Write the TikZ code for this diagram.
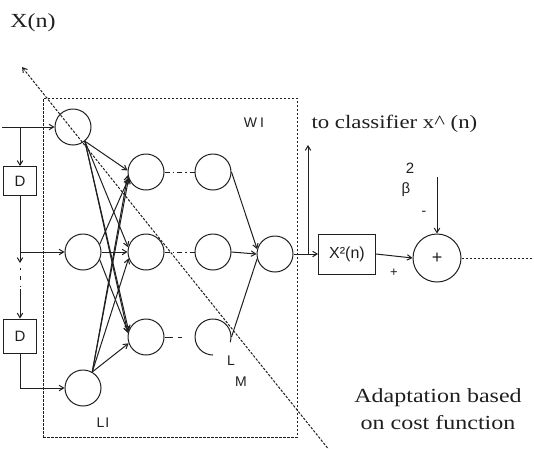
\documentclass[tikz,border=0pt]{standalone}
\usepackage{fontspec}
\setmainfont{Liberation Serif}
\setsansfont{Liberation Sans}
\newfontfamily\wideserif[FakeStretch=1.2]{Liberation Serif}
\usetikzlibrary{arrows.meta}
\tikzset{
  neuron/.style={circle, draw, minimum size=36pt, inner sep=0pt},
  arr/.style={-{Straight Barb[length=4.5pt,width=5.5pt]}},
  dotline/.style={dash pattern=on 5pt off 3pt on 1.5pt off 3pt},
  fine dashed/.style={dash pattern=on 2.5pt off 1.5pt},
  lab/.style={font=\sffamily\fontsize{14}{16}\selectfont, inner sep=0pt},
  sertext/.style={font=\wideserif\fontsize{19}{26}\selectfont, inner sep=0pt},
  dbox/.style={draw, minimum width=33pt, inner sep=0pt, font=\sffamily\fontsize{15}{17}\selectfont}
}
\begin{document}
\begin{tikzpicture}[x=1pt, y=-1pt, line width=1pt, color=black!88]
\useasboundingbox (0,0) rectangle (534,448);
% dashed network box
\node[draw, fine dashed, minimum width=254pt, minimum height=339pt, inner sep=0pt] (netbox) at (170,267.5) {};
% neurons
\node[neuron] (i1) at (73,127) {};
\node[neuron] (i2) at (83,252) {};
\node[neuron] (i3) at (83,388) {};
\node[neuron] (h1) at (146,172) {};
\node[neuron] (h2) at (146,252) {};
\node[neuron] (h3) at (146,337) {};
\node[neuron] (c1) at (213,172) {};
\node[neuron] (c2) at (213,252) {};
\node[circle, minimum size=36pt, inner sep=0pt] (c3) at (213,337) {};
\draw (c3.center) ++(17:18) arc[start angle=17, end angle=-270, radius=18];
\node[neuron] (o) at (275,254) {};
% delay line
\node[dbox, minimum height=29pt] (d1) at (20,181) {D};
\node[dbox, minimum height=34pt] (d2) at (20,336) {D};
\coordinate (xin) at (2,127);
\coordinate (b0) at (20,127);
\coordinate (b1) at (20,252);
\coordinate (b1a) at (20,263);
\coordinate (b1b) at (20,268);
\coordinate (b1c) at (20,289);
\draw[arr] (xin) -- (i1.west);
\draw[arr] (b0) -- (d1.north);
\draw (d1.south) -- (b1);
\draw[arr] (b1) -- (i2.west);
\draw[arr] (b1) -- (b1a);
\draw[dash pattern=on 1.5pt off 6pt on 4pt off 6pt] (b1b) -- (b1c);
\draw[arr] (b1c) -- (d2.north);
\draw[arr] (d2.south) |- (i3.west);
% input to hidden
\draw[arr] (i1.-50) -- (h1.175);
\draw[arr] (i1.-50) -- (h2.165);
\draw[arr] (i1.-50) -- (h3.160);
\draw[arr] (i1.-50) -- (h3.168);
\draw[arr] (i2.25) -- (h1.200);
\draw[arr] (i2.east) -- (h2.west);
\draw[arr] (i2.-25) -- (h3.165);
\draw[arr] (i3.60) -- (h1.190);
\draw[arr] (i3.60) -- (h1.200);
\draw[arr] (i3.60) -- (h2.200);
\draw[arr] (i3.60) -- (h3.200);
% hidden to next column
\draw[dotline] (h1.east) -- (c1.west);
\draw[dotline] (h2.east) -- (c2.west);
\draw[dash pattern=on 8pt off 5pt on 4pt off 20pt] (h3.east) -- (c3.west);
% to output
\draw[arr] (c1.east) -- (o.165);
\draw[arr] (c2.east) -- (o.west);
\draw (c3.east) -- (o.195);
% labels in network
\node[lab, font=\sffamily\fontsize{14}{16}\selectfont] (wlab) at (254,123) {W\hspace{3pt}I};
\node[lab] (l1lab) at (103,423) {L\hspace{1pt}I};
\node[lab] (llab) at (231,361) {L};
\node[lab] (mlab) at (241,382) {M};
% output branch
\node[draw, minimum width=57pt, minimum height=40pt, inner sep=0pt, font=\sffamily\fontsize{16}{18}\selectfont] (xsq) at (347,254) {X²(n)};
\coordinate (br) at (308,254);
\coordinate (up) at (308,145);
\draw[arr] (o.east) -- (xsq.west);
\draw[arr] (br) -- (up);
\node[sertext, anchor=west] (cls) at (311,124) {to classifier x\textasciicircum\ (n)};
% summation
\node[circle, draw, minimum size=48pt, inner sep=0pt, font=\sffamily\fontsize{18}{20}\selectfont] (sum) at (437,258) {+};
\draw[arr] (xsq.east) -- (sum.west);
\coordinate (bt) at (437,177);
\draw[arr] (bt) -- (sum.north);
\coordinate (rend) at (534,258);
\draw[fine dashed] (sum.east) -- (rend);
\node[lab, font=\sffamily\fontsize{13}{15}\selectfont] (plab) at (394,273) {+};
\node[lab] (mlab2) at (424,213) {-};
\node[lab, font=\sffamily\fontsize{15}{17}\selectfont] (two) at (410,168) {2};
\node[lab, font=\sffamily\fontsize{15}{17}\selectfont] (beta) at (406,190) {β};
% texts
\node[sertext, font=\wideserif\fontsize{20}{24}\selectfont] (xn) at (33,23) {X(n)};
\node[sertext, align=center, font=\wideserif\fontsize{20}{27}\selectfont] (adapt) at (438,409) {Adaptation based\\on cost function};
% diagonal adaptation arrow
\coordinate (dstart) at (330,451);
\coordinate (dend) at (22,67);
\draw[fine dashed, arr] (dstart) -- (dend);
\end{tikzpicture}
\end{document}
